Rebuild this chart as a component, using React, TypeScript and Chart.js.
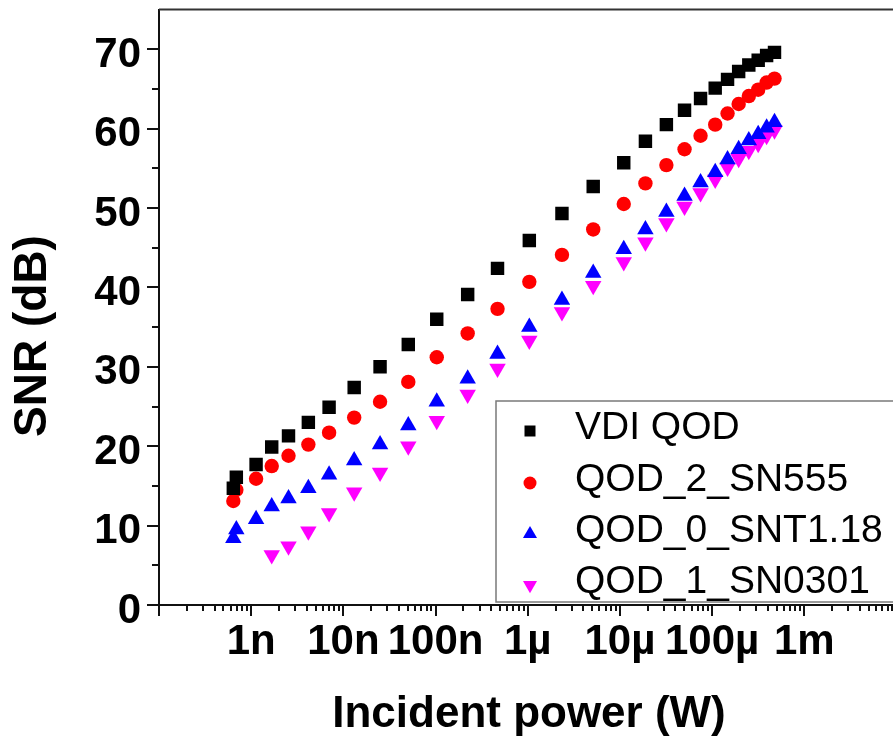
import React, { useEffect, useRef } from 'react';
import { Chart, registerables } from 'chart.js';

Chart.register(...registerables);

// Incident power (W), shared x positions
const powerW = [
  6.4e-10, 6.9e-10, 1.13e-9, 1.67e-9, 2.54e-9, 4.17e-9, 7.0e-9, 1.31e-8, 2.5e-8, 5.06e-8,
  1.03e-7, 2.23e-7, 4.7e-7, 1.04e-6, 2.35e-6, 5.13e-6, 1.1e-5, 1.89e-5, 3.19e-5, 5.02e-5,
  7.49e-5, 1.08e-4, 1.47e-4, 1.94e-4, 2.5e-4, 3.16e-4, 3.9e-4, 4.75e-4,
];
// QOD_1_SN0301 starts at the 4th power level
const powerW_QOD1 = powerW.slice(3);

const snrVDI = [
  14.7, 16.1, 17.7, 19.9, 21.3, 23.0, 24.9, 27.4, 30.0, 32.8, 36.0, 39.1, 42.4, 45.9,
  49.3, 52.7, 55.7, 58.4, 60.5, 62.3, 63.8, 65.1, 66.2, 67.2, 68.0, 68.6, 69.2, 69.6,
];
const snrQOD2 = [
  13.1, 14.5, 15.9, 17.5, 18.8, 20.2, 21.7, 23.6, 25.6, 28.1, 31.2, 34.2, 37.3, 40.7,
  44.1, 47.3, 50.5, 53.1, 55.4, 57.4, 59.1, 60.5, 61.9, 63.1, 64.1, 64.9, 65.8, 66.3,
];
const snrQOD0 = [
  8.4, 9.5, 10.8, 12.4, 13.4, 14.7, 16.4, 18.2, 20.2, 22.6, 25.6, 28.5, 31.6, 35.0,
  38.4, 41.8, 44.8, 47.3, 49.5, 51.5, 53.2, 54.5, 56.1, 57.4, 58.5, 59.3, 60.1, 60.8,
];
const snrQOD1 = [
  6.3, 7.4, 9.3, 11.6, 14.2, 16.7, 20.0, 23.2, 26.5, 29.8, 33.3, 36.9, 40.2, 43.2,
  45.7, 48.1, 50.2, 51.9, 53.6, 55.1, 56.2, 57.2, 58.1, 59.1, 59.8,
];

const seriesNames = ['VDI QOD', 'QOD_2_SN555', 'QOD_0_SNT1.18', 'QOD_1_SN0301'];
const seriesColors = ['#000000', '#ff0000', '#0000ff', '#ff00ff'];

const xTickValues = [1e-9, 1e-8, 1e-7, 1e-6, 1e-5, 1e-4, 1e-3];
const xTickLabels = ['1n', '10n', '100n', '1µ', '10µ', '100µ', '1m'];
const yTickValues = [0, 10, 20, 30, 40, 50, 60, 70];

const xTitle = 'Incident power (W)';
const yTitle = 'SNR (dB)';

const FONT = '"Liberation Sans", Arial, Helvetica, sans-serif';

function drawMarker(ctx: CanvasRenderingContext2D, kind: number, x: number, y: number, s: number) {
  ctx.beginPath();
  if (kind === 0) {
    ctx.rect(x - s / 2, y - s / 2, s, s);
  } else if (kind === 1) {
    ctx.arc(x, y, s / 2, 0, Math.PI * 2);
  } else if (kind === 2) {
    const r = s / 1.6;
    ctx.moveTo(x, y - r);
    ctx.lineTo(x + r * 0.866, y + r / 2);
    ctx.lineTo(x - r * 0.866, y + r / 2);
    ctx.closePath();
  } else {
    const r = s / 1.6;
    ctx.moveTo(x, y + r);
    ctx.lineTo(x + r * 0.866, y - r / 2);
    ctx.lineTo(x - r * 0.866, y - r / 2);
    ctx.closePath();
  }
  ctx.fill();
}

export default function App() {
  const ref = useRef<HTMLCanvasElement>(null);

  useEffect(() => {
    if (!ref.current) return;
    const styles = [
      { style: 'rect', radius: 9.5, rotation: 0 },
      { style: 'circle', radius: 7.2, rotation: 0 },
      { style: 'triangle', radius: 9.5, rotation: 0 },
      { style: 'triangle', radius: 9.5, rotation: 180 },
    ];
    const ys = [snrVDI, snrQOD2, snrQOD0, snrQOD1];
    const xs = [powerW, powerW, powerW, powerW_QOD1];
    const datasets = ys.map((arr, i) => ({
      label: seriesNames[i],
      data: arr.map((y, j) => ({ x: xs[i][j], y })),
      pointStyle: styles[i].style as any,
      pointRadius: styles[i].radius,
      pointHoverRadius: styles[i].radius,
      pointRotation: styles[i].rotation,
      backgroundColor: seriesColors[i],
      borderColor: seriesColors[i],
      borderWidth: 0,
      showLine: false,
    }));

    const decor = {
      id: 'decor',
      afterDraw(chart: any) {
        const ctx: CanvasRenderingContext2D = chart.ctx;
        const xs = chart.scales.x;
        const ysc = chart.scales.y;
        const a = chart.chartArea;
        ctx.save();
        // top frame
        ctx.strokeStyle = '#333';
        ctx.lineWidth = 2;
        ctx.beginPath();
        ctx.moveTo(a.left, a.top);
        ctx.lineTo(a.right, a.top);
        ctx.stroke();
        // ticks
        ctx.strokeStyle = '#111';
        ctx.lineWidth = 2;
        for (let e = -10; e <= -2; e++) {
          for (let m = 1; m <= 9; m++) {
            const v = m * Math.pow(10, e);
            if (v < xs.min * 0.999 || v > xs.max * 1.001) continue;
            const px = Math.round(xs.getPixelForValue(v));
            const len = m === 1 ? 11 : 6;
            ctx.beginPath();
            ctx.moveTo(px, a.bottom);
            ctx.lineTo(px, a.bottom + len);
            ctx.stroke();
          }
        }
        for (let v = 0; v <= 70; v += 5) {
          const py = Math.round(ysc.getPixelForValue(v));
          const len = v % 10 === 0 ? 12 : 7;
          ctx.beginPath();
          ctx.moveTo(a.left, py);
          ctx.lineTo(a.left - len, py);
          ctx.stroke();
        }
        // axis titles
        ctx.fillStyle = '#000';
        ctx.font = `bold 44px ${FONT}`;
        ctx.textAlign = 'center';
        ctx.textBaseline = 'alphabetic';
        ctx.fillText(xTitle, 529, 727);
        ctx.save();
        ctx.translate(33, 336);
        ctx.rotate(-Math.PI / 2);
        ctx.font = `bold 46px ${FONT}`;
        ctx.textBaseline = 'middle';
        ctx.fillText(yTitle, 0, 0);
        ctx.restore();
        // legend
        const lx = 496, ly = 401, lh = 201;
        ctx.fillStyle = '#fff';
        ctx.fillRect(lx, ly, 600, lh);
        ctx.strokeStyle = '#7a7a7a';
        ctx.lineWidth = 1.5;
        ctx.strokeRect(lx, ly, 600, lh);
        const rowY = [428, 480, 531, 582];
        const sizes = [11, 13, 13, 13];
        ctx.font = `39px ${FONT}`;
        ctx.textAlign = 'left';
        ctx.textBaseline = 'middle';
        chart.data.datasets.forEach((ds: any, i: number) => {
          ctx.fillStyle = seriesColors[i];
          drawMarker(ctx, i, 530, rowY[i] + 3, sizes[i]);
          ctx.fillStyle = '#000';
          ctx.fillText(ds.label, 575, rowY[i]);
        });
        ctx.restore();
      },
    };

    const chart = new Chart(ref.current, {
      type: 'scatter',
      data: { datasets },
      options: {
        responsive: false,
        animation: false,
        devicePixelRatio: 1,
        layout: { padding: { left: 0, top: 9, right: 1, bottom: 0 } },
        plugins: { legend: { display: false }, tooltip: { enabled: false }, title: { display: false } },
        scales: {
          x: {
            type: 'logarithmic',
            min: 1e-10,
            max: 1e-2,
            grid: { display: false, drawTicks: false },
            border: { display: true, color: '#111', width: 2 },
            afterFit: (s: any) => {
              s.height = 134;
              s.paddingLeft = 0;
              s.paddingRight = 0;
              s.paddingTop = 0;
              s.paddingBottom = 0;
            },
            afterBuildTicks: (s: any) => { s.ticks = xTickValues.map((v) => ({ value: v })); },
            ticks: {
              autoSkip: false,
              maxRotation: 0,
              minRotation: 0,
              padding: 12,
              color: '#000',
              font: { family: FONT, size: 42, weight: 'bold' },
              callback: (v: any) => {
                const i = xTickValues.findIndex((t) => Math.abs(t - v) / t < 1e-6);
                return i >= 0 ? xTickLabels[i] : '';
              },
            },
          },
          y: {
            type: 'linear',
            min: 0,
            max: 75,
            grid: { display: false, drawTicks: false },
            border: { display: true, color: '#111', width: 2 },
            afterFit: (s: any) => {
              s.width = 159;
              s.paddingTop = 0;
              s.paddingBottom = 0;
              s.paddingLeft = 0;
              s.paddingRight = 0;
            },
            afterBuildTicks: (s: any) => { s.ticks = yTickValues.map((v) => ({ value: v })); },
            ticks: {
              padding: 18,
              labelOffset: 6,
              color: '#000',
              font: { family: FONT, size: 42, weight: 'bold' },
              callback: (v: any) => String(v),
            },
          },
        },
      },
      plugins: [decor],
    });
    return () => chart.destroy();
  }, []);

  return (
    <div style={{ position: 'fixed', left: 0, top: 0, width: 893, height: 739, overflow: 'hidden', background: '#fff' }}>
      <canvas ref={ref} width={906} height={739} style={{ width: 906, height: 739, display: 'block' }} />
    </div>
  );
}
